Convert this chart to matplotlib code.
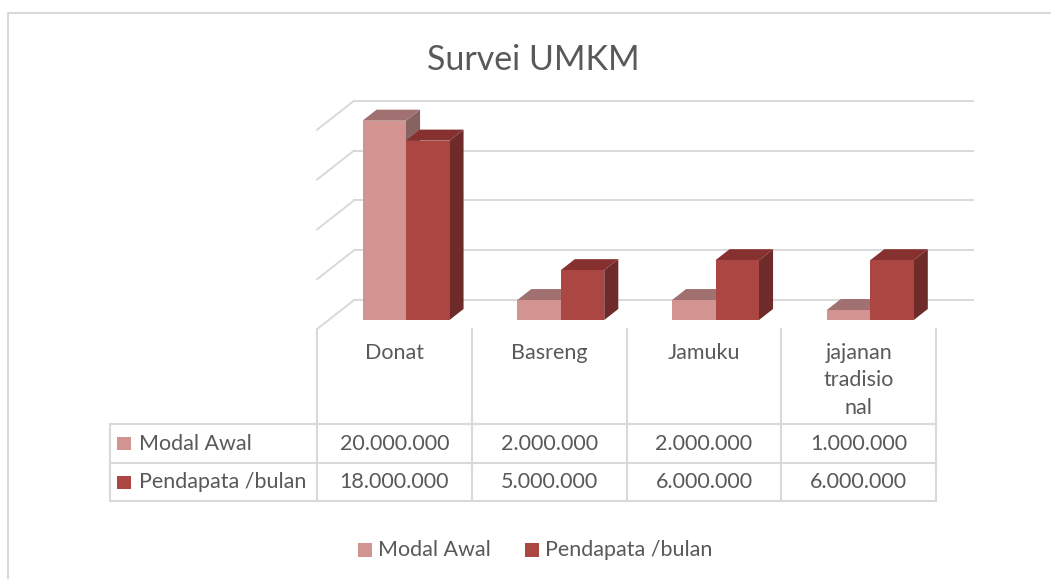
import numpy as np
import matplotlib
matplotlib.use('Agg')
import matplotlib.pyplot as plt
from matplotlib.patches import Polygon, Rectangle

# data
categories = ["Donat", "Basreng", "Jamuku", "jajanan\ntradisio\nnal"]
series_names = ["Modal Awal", "Pendapata /bulan"]
modal_awal = [20000000, 2000000, 2000000, 1000000]
pendapatan = [18000000, 5000000, 6000000, 6000000]
title = "Survei UMKM"
y_max = 20000000
y_step = 5000000

# look
W, H = 1051, 579
TXT = '#595959'
GRID = '#d9d9d9'
faces = [
    ('#d29391', '#a07170', '#876260'),   # Modal Awal: front, top, side
    ('#ab4642', '#86302f', '#6e2b2a'),   # Pendapata: front, top, side
]
plt.rcParams['font.family'] = ['Lato', 'DejaVu Sans']

# pixel anchors of the bar front plane
X0, CW = 406.0, 154.75      # px of category 0 centre, px per category
Y0, PPV = 320.0, 9.965      # px of value 0, px per million
DEPTH_PX = (37.0, 29.0)     # floor depth (right, up) in px
F_BAR0, F_BAR1 = 0.31, 0.69  # where the bars sit in the floor depth
BAR_W = 43.5 / CW


def px2x(px):
    return (px - X0) / CW


def py2v(py):
    return (Y0 - py) / PPV * 1e6


def off(f):
    # data offset for depth fraction f (0 = front of floor, 1 = back wall)
    return ((f - F_BAR0) * DEPTH_PX[0] / CW, (f - F_BAR0) * DEPTH_PX[1] / PPV * 1e6)


fig = plt.figure(figsize=(W / 100, H / 100), dpi=100)
ax = fig.add_axes([0, 0, 1, 1])
ax.set_xlim(px2x(0), px2x(W))
ax.set_ylim(py2v(H), py2v(0))
ax.axis('off')

# chart border
ax.plot([px2x(8), px2x(8), px2x(W + 5)], [py2v(H + 5), py2v(12.5), py2v(12.5)],
        color=GRID, lw=1.5, solid_capstyle='butt')

# wall gridlines
n = len(categories)
xl, xr = -0.5, n - 0.5
bx, by = off(1.0)
fx, fy = off(0.0)
for v in np.arange(0, y_max + 1, y_step):
    ax.plot([xl + bx, xr + bx], [v + by, v + by], color=GRID, lw=1.4, zorder=1)
    ax.plot([xl + bx, xl + fx], [v + by, v + fy], color=GRID, lw=1.4, zorder=1)

# 3d columns
dx = (F_BAR1 - F_BAR0) * DEPTH_PX[0] / CW
dy = (F_BAR1 - F_BAR0) * DEPTH_PX[1] / PPV * 1e6
x = np.arange(n)
for s, vals in enumerate([modal_awal, pendapatan]):
    front, top, side = faces[s]
    lefts = x - BAR_W + s * BAR_W
    for x0, v in zip(lefts, vals):
        x1 = x0 + BAR_W
        ax.add_patch(Polygon([(x1, 0), (x1 + dx, dy), (x1 + dx, v + dy), (x1, v)],
                             closed=True, fc=side, ec='none', zorder=2))
        ax.add_patch(Polygon([(x0, v), (x1, v), (x1 + dx, v + dy), (x0 + dx, v + dy)],
                             closed=True, fc=top, ec='none', zorder=2))
        ax.bar(x0, v, width=BAR_W, align='edge', color=front, lw=0, zorder=2)

# data table
t_top, t_mid, t_bot = py2v(424), py2v(463), py2v(501)
t_left = px2x(110)
for yv in [t_top, t_mid, t_bot]:
    ax.plot([t_left, xr + fx], [yv, yv], color=GRID, lw=1.5, zorder=1)
ax.plot([t_left, t_left], [t_top, t_bot], color=GRID, lw=1.5, zorder=1)
for b in np.arange(n + 1) - 0.5:
    ax.plot([b + fx, b + fx], [fy, t_bot], color=GRID, lw=1.5, zorder=1)

fs = 15.5
for i, lab in enumerate(categories):
    for j, line in enumerate(lab.split('\n')):
        ax.text(i + fx, py2v(353 + j * 27.5), line, ha='center', va='center',
                color=TXT, fontsize=fs)

row_y = [443.5, 482.0]
for s, (name, vals) in enumerate(zip(series_names, [modal_awal, pendapatan])):
    cy = row_y[s]
    ax.add_patch(Rectangle((px2x(117), py2v(cy + 6.5)), 14 / CW, 13 / PPV * 1e6,
                           fc=faces[s][0], ec='none'))
    ax.text(px2x(139), py2v(cy), name, ha='left', va='center', color=TXT, fontsize=fs)
    for i, v in enumerate(vals):
        ax.text(i + fx, py2v(cy), f"{v:,}".replace(',', '.'), ha='center',
                va='center', color=TXT, fontsize=fs)

# legend
leg_x = [358, 525]
for s, name in enumerate(series_names):
    ax.add_patch(Rectangle((px2x(leg_x[s]), py2v(557)), 14 / CW, 14 / PPV * 1e6,
                           fc=faces[s][0], ec='none'))
    ax.text(px2x(leg_x[s] + 20), py2v(550), name, ha='left', va='center',
            color=TXT, fontsize=fs)

# title
ax.text(px2x(533), py2v(60), title, ha='center', va='center', color=TXT, fontsize=24.5)

fig.savefig('out.png', dpi=100)
